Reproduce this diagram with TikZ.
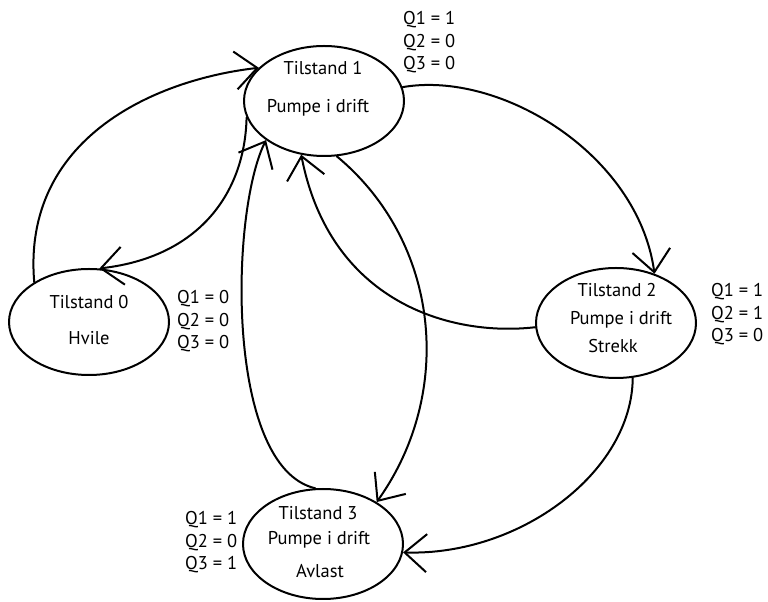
\documentclass[tikz,border=0pt]{standalone}
\usepackage{fontspec}
\setmainfont{PT Sans}
\usetikzlibrary{arrows.meta}
\usetikzlibrary{shapes.geometric}

\tikzset{
  state/.style={draw, ellipse, line width=2pt, inner sep=0pt, minimum width=160pt, minimum height=110pt},
  txt/.style={anchor=base, inner sep=0pt, font=\fontsize{18.5}{22}\selectfont},
  qtxt/.style={anchor=base west, inner sep=0pt, font=\fontsize{18.5}{22}\selectfont},
  edge/.style={->, line width=2pt}
}

\begin{document}
\begin{tikzpicture}[x=1pt,y=1pt,line cap=round,line join=round,>={Straight Barb[length=22pt,width=38pt]}]
\useasboundingbox (0,0) rectangle (768,602);
% states
\node[state, minimum height=106pt] (s0) at (89,280) {};
\node[state] (s1) at (324,501) {};
\node[state] (s2) at (616,279) {};
\node[state] (s3) at (323,58) {};
% text in the states
\node[txt] (s0a) at (89,293) {Tilstand 0};
\node[txt] (s0b) at (89,257) {Hvile};
\node[txt] (s1a) at (323,527) {Tilstand 1};
\node[txt] (s1b) at (318,489) {Pumpe i drift};
\node[txt] (s2a) at (617,305) {Tilstand 2};
\node[txt] (s2b) at (621,277) {Pumpe i drift};
\node[txt] (s2c) at (613,249) {Strekk};
\node[txt] (s3a) at (318,82) {Tilstand 3};
\node[txt] (s3b) at (319,57) {Pumpe i drift};
\node[txt] (s3c) at (320,24) {Avlast};
% outputs Q1..Q3
\foreach \n/\x/\y/\va/\vb/\vc in {q0/177/298/0/0/0, q1/403/577/1/0/0, q2/711/305/1/1/0, q3/185/77/1/0/1}{
  \node[qtxt] (\n-1) at (\x,\y) {Q1 = \va};
  \node[qtxt] (\n-2) at (\x,\y-22.5) {Q2 = \vb};
  \node[qtxt] (\n-3) at (\x,\y-45) {Q3 = \vc};
}
% transitions
\draw[edge] (s0.144) .. controls (22,462) and (152,522) .. (s1.153);
\draw[edge] (s1.192) .. controls (245,410) and (200,345) .. (s0.79);
\draw[edge] (s1.10) .. controls (500,532) and (638,448) .. (s2.52);
\draw[edge] (s2.183) .. controls (450,265) and (330,300) .. (s1.247);
\draw[edge] (s3.98) .. controls (225,135) and (230,390) .. (s1.214);
\draw[edge] (s1.283) .. controls (440,360) and (455,210) .. (s3.38);
\draw[edge] (s2.287) .. controls (632,130) and (520,46) .. (s3.354);
\end{tikzpicture}
\end{document}
